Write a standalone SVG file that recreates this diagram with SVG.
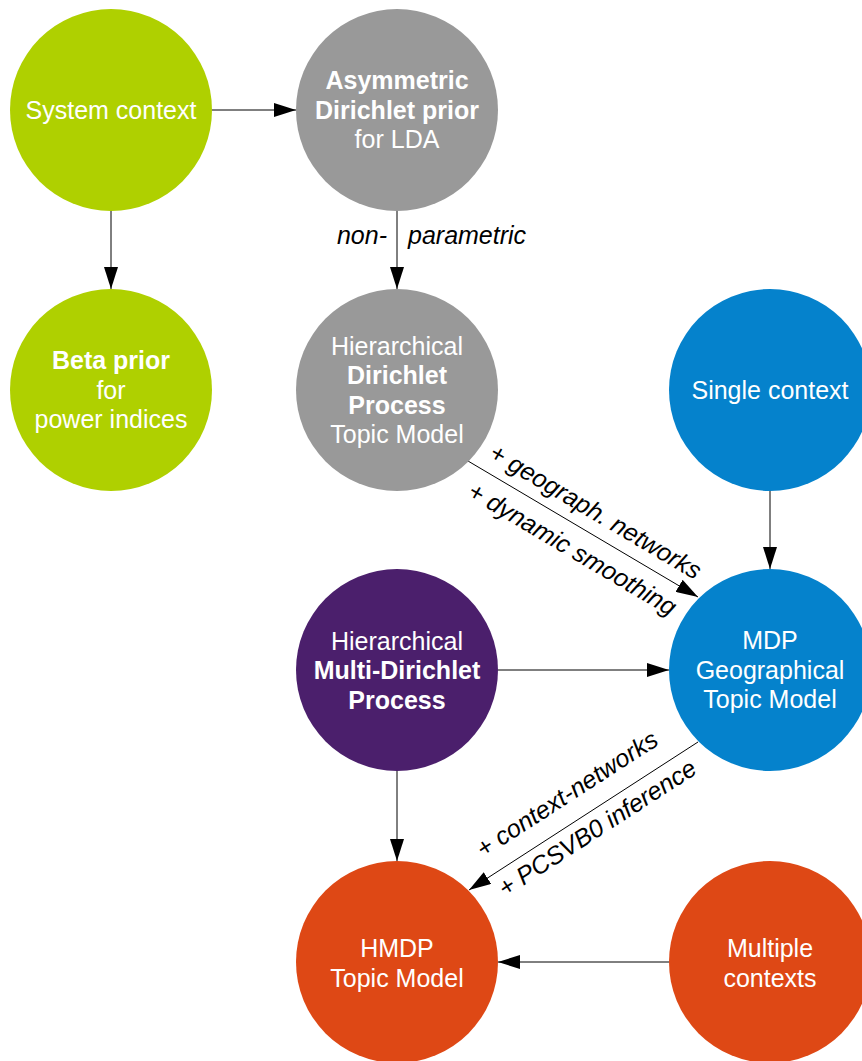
<svg xmlns="http://www.w3.org/2000/svg" width="862" height="1061" viewBox="0 0 862 1061">
<style>
text{font-family:"Liberation Sans",Arial,sans-serif;font-size:25px;}
.n{fill:#ffffff;text-anchor:middle;}
.b{font-weight:bold;}
.lbl{fill:#000000;font-style:italic;}
.e{stroke:#000000;stroke-width:1;fill:none;marker-end:url(#ah);}
.green{fill:#AFD000;}
.gray{fill:#999999;}
.blue{fill:#0582CC;}
.purple{fill:#4B1F6C;}
.orange{fill:#DE4815;}
</style>
<defs>
<marker id="ah" markerUnits="userSpaceOnUse" markerWidth="22" markerHeight="14" refX="22" refY="7" orient="auto">
<path d="M0,0 L22,7 L0,14 z" fill="#000000"/>
</marker>
</defs>
<rect width="862" height="1061" fill="#ffffff"/>
<g id="connectors">
<line class="e" x1="212" y1="110" x2="296" y2="110"/>
<line class="e" x1="111" y1="211" x2="111" y2="289"/>
<line class="e" x1="397" y1="211" x2="397" y2="289"/>
<line class="e" x1="468" y1="461" x2="698" y2="597"/>
<line class="e" x1="770" y1="491" x2="770" y2="569"/>
<line class="e" x1="498" y1="670" x2="669" y2="670"/>
<line class="e" x1="698" y1="742" x2="469" y2="890"/>
<line class="e" x1="397" y1="771" x2="397" y2="861"/>
<line class="e" x1="669" y1="962" x2="498" y2="962"/>
<text class="lbl" x="387" y="244" text-anchor="end">non-</text>
<text class="lbl" x="408" y="244">parametric</text>
<g transform="translate(583,529) rotate(30.6)">
<text class="lbl" x="2" y="-13" text-anchor="middle">+ geograph. networks</text>
<text class="lbl" x="1" y="31" text-anchor="middle">+ dynamic smoothing</text>
</g>
<g transform="translate(583.5,816) rotate(-32.9)">
<text class="lbl" x="-2" y="-19" text-anchor="middle">+ context-networks</text>
<text class="lbl" x="5" y="26" text-anchor="middle">+ PCSVB0 inference</text>
</g>
</g>
<g id="system-context">
<circle class="green" cx="111" cy="110" r="101"/>
<text class="n" x="111" y="119">System context</text>
</g>
<g id="asymmetric-dirichlet">
<circle class="gray" cx="397" cy="110" r="101"/>
<text class="n b" x="397" y="89">Asymmetric</text>
<text class="n b" x="397" y="119">Dirichlet prior</text>
<text class="n" x="397" y="148">for LDA</text>
</g>
<g id="beta-prior">
<circle class="green" cx="111" cy="390" r="101"/>
<text class="n b" x="111" y="369">Beta prior</text>
<text class="n" x="111" y="399">for</text>
<text class="n" x="111" y="428">power indices</text>
</g>
<g id="hdp">
<circle class="gray" cx="397" cy="390" r="101"/>
<text class="n" x="397" y="355">Hierarchical</text>
<text class="n b" x="397" y="384">Dirichlet</text>
<text class="n b" x="397" y="414">Process</text>
<text class="n" x="397" y="443">Topic Model</text>
</g>
<g id="single-context">
<circle class="blue" cx="770" cy="390" r="101"/>
<text class="n" x="770" y="399">Single context</text>
</g>
<g id="mdp">
<circle class="blue" cx="770" cy="670" r="101"/>
<text class="n" x="770" y="649">MDP</text>
<text class="n" x="770" y="679">Geographical</text>
<text class="n" x="770" y="708">Topic Model</text>
</g>
<g id="hmdp-process">
<circle class="purple" cx="397" cy="670" r="101"/>
<text class="n" x="397" y="650">Hierarchical</text>
<text class="n b" x="397" y="679">Multi-Dirichlet</text>
<text class="n b" x="397" y="709">Process</text>
</g>
<g id="hmdp-topic-model">
<circle class="orange" cx="397" cy="962" r="101"/>
<text class="n" x="397" y="957">HMDP</text>
<text class="n" x="397" y="987">Topic Model</text>
</g>
<g id="multiple-contexts">
<circle class="orange" cx="770" cy="962" r="101"/>
<text class="n" x="770" y="957">Multiple</text>
<text class="n" x="770" y="987">contexts</text>
</g>
</svg>
